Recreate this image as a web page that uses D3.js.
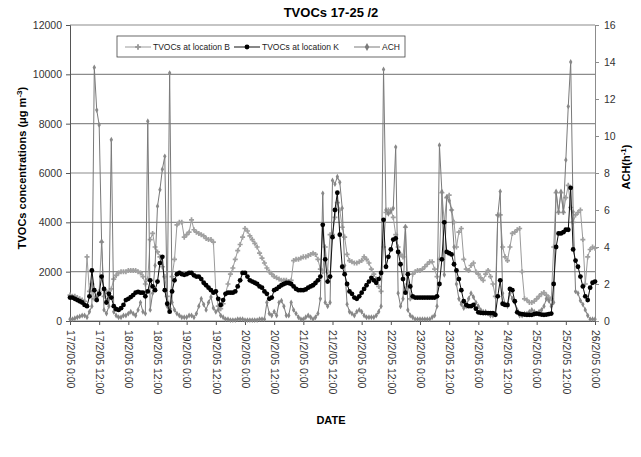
<!DOCTYPE html>
<html lang="en">
<head>
<meta charset="UTF-8">
<title>TVOCs 17-25 /2</title>
<script src="https://d3js.org/d3.v7.min.js"></script>
<style>
  body { margin: 0; background: #fff; }
  svg { font-family: "Liberation Sans", Arial, sans-serif; }
</style>
</head>
<body>
<script>
// x tick labels, one every 12 hours from 17/2/05 0:00
var dateLabels = ["17/2/05 0:00", "17/2/05 12:00", "18/2/05 0:00", "18/2/05 12:00",
    "19/2/05 0:00", "19/2/05 12:00", "20/2/05 0:00", "20/2/05 12:00",
    "21/2/05 0:00", "21/2/05 12:00", "22/2/05 0:00", "22/2/05 12:00",
    "23/2/05 0:00", "23/2/05 12:00", "24/2/05 0:00", "24/2/05 12:00",
    "25/2/05 0:00", "25/2/05 12:00", "26/2/05 0:00"];
var tvocTicks = [0, 2000, 4000, 6000, 8000, 10000, 12000];
var achTicks = [0, 2, 4, 6, 8, 10, 12, 14, 16];

// hourly readings, 17/2 0:00 -> 26/2 0:00 (217 values)
var locB = [
    1050,1000,1000,950,900,850,800,2600,1200,1500,900,1000,
    1200,3200,1000,1200,900,1300,1700,1850,1950,2000,2000,2000,
    2050,2050,2050,2050,2000,1950,1800,1500,1700,3300,3550,3000,
    2800,2600,2200,1800,1000,500,1800,2500,3900,4000,4000,3400,
    3500,3600,4100,3700,3600,3550,3500,3450,3350,3300,3300,3200,
    1200,600,500,700,1100,1500,1900,2150,2500,2850,3100,3400,
    3750,3650,3450,3300,3150,3000,2750,2550,2350,2150,2000,1900,
    1800,1750,1700,1650,1650,1650,1600,1650,2450,2500,2500,2550,
    2600,2600,2650,2700,2750,2700,2500,2100,2000,3000,2000,3500,
    3500,4200,4800,4500,3800,3400,2700,2450,2400,2350,2350,2400,
    2450,2600,2500,2350,2100,1900,1700,1400,1200,3000,4400,4500,
    4500,4200,3500,3000,2700,2600,3800,1500,900,1900,2000,2050,
    2050,2100,2200,2300,2400,2400,2100,1800,2500,5200,4000,5000,
    5100,4500,4000,3000,3600,3750,2500,2100,2050,2250,2350,2000,
    1900,1750,1650,1900,2050,1800,1500,1000,4300,4300,3000,2600,
    2450,3000,3550,3600,3700,3750,2000,900,850,750,750,800,
    900,1000,1100,1150,1050,950,900,3000,5200,4400,5200,4400,
    5000,5500,4600,4000,4300,4400,4500,3300,1500,2600,2900,3000,
    2950];
var locK = [
    950,950,900,850,800,750,650,600,1000,2050,1250,850,
    1100,1800,1300,750,1100,950,600,480,450,520,650,850,
    900,970,1050,1150,1180,1150,1150,1000,1200,1650,1400,1250,
    1600,2350,2600,1250,700,380,1200,1650,1900,1950,1900,1870,
    1900,1950,1950,1850,1800,1800,1700,1550,1450,1350,1250,1150,
    1200,900,650,850,1100,1150,1150,1150,1200,1400,1650,1950,
    1950,1800,1650,1600,1550,1500,1400,1350,1200,1100,900,950,
    1250,1300,1380,1450,1500,1540,1540,1500,1400,1300,1250,1250,
    1250,1280,1350,1400,1450,1540,1650,1800,3900,2500,1600,1800,
    3400,4500,5200,3500,2200,1900,1500,1200,1100,950,900,1000,
    1150,1300,1450,1600,1750,1650,1550,1700,1950,4100,2200,2600,
    2900,3300,3350,2800,2300,1700,1150,1900,1400,1000,950,950,
    950,950,950,950,950,950,950,1000,1500,2500,4000,2800,
    2750,2700,2300,2050,1700,1250,800,650,600,600,650,500,
    350,330,320,320,320,320,320,250,1000,1650,700,650,
    650,1300,1250,800,350,300,280,260,250,250,250,280,
    300,280,260,250,260,280,300,1500,3000,3550,3550,3600,
    3700,3700,5400,2900,2450,2200,1800,1400,1000,850,1350,1550,
    1600];
var achValues = [
    0.1,0.1,0.15,0.2,0.25,0.3,0.3,0.2,0.5,0.8,13.7,11.4,
    10.6,4.3,0.6,0.4,0.8,9.8,0.5,0.3,0.2,0.2,0.3,0.3,
    0.4,0.5,0.4,0.3,0.6,1.0,0.5,0.4,10.8,0.6,1.5,3.0,
    6.2,7.1,8.2,8.9,0.8,13.4,1.0,0.6,0.4,0.3,0.2,0.2,
    0.2,0.3,0.3,0.2,0.4,0.8,1.2,0.9,0.6,1.0,1.3,0.7,
    0.5,0.6,0.3,0.2,0.1,0.1,0.05,0.05,0.05,0.1,0.1,0.1,
    0.05,0.05,0.05,0.05,0.05,0.05,0.1,0.1,0.1,1.0,0.4,0.3,
    0.5,0.3,1.0,1.1,0.8,0.3,0.3,1.0,0.6,0.4,0.2,0.1,
    0.1,0.2,0.3,0.2,0.1,0.2,0.4,1.2,6.9,1.0,0.8,1.0,
    7.6,7.4,7.8,7.5,6.1,3.0,0.9,0.5,0.4,0.3,0.5,0.6,
    0.5,0.3,0.2,0.2,0.2,0.2,0.3,0.5,0.8,13.6,6.0,5.8,
    5.9,6.1,9.4,1.5,0.8,1.2,5.1,0.6,0.3,0.2,0.1,0.1,
    0.1,0.1,0.1,0.1,0.1,0.2,0.3,0.8,9.5,7.0,2.5,6.7,
    6.5,6.0,4.0,2.0,1.2,0.9,0.7,0.8,1.2,1.5,1.3,1.0,
    0.8,0.6,0.5,0.5,0.4,0.3,0.3,0.4,5.7,7.0,1.5,0.9,
    0.8,1.5,1.2,1.0,0.6,0.3,0.3,0.4,0.4,0.5,0.6,0.5,
    0.4,0.5,0.6,0.8,1.2,1.1,0.8,1.0,7.0,5.9,7.0,5.9,
    8.7,11.6,14.0,5.9,1.6,1.5,1.1,0.9,0.6,0.3,0.1,0.1,
    0.1];

var w = 641, h = 457;
var plotLeft = 70, plotRight = 595, plotTop = 25, plotBottom = 321;

var svg = d3.select("body").append("svg")
    .attr("width", w)
    .attr("height", h);

var x = d3.scaleLinear().domain([0, 216]).range([plotLeft, plotRight]);
var yL = d3.scaleLinear().domain([0, 12000]).range([plotBottom, plotTop]);
var yR = d3.scaleLinear().domain([0, 16]).range([plotBottom, plotTop]);

// gridlines
svg.append("g").selectAll("line")
    .data(tvocTicks)
    .enter().append("line")
    .attr("x1", plotLeft).attr("x2", plotRight)
    .attr("y1", function(d) { return yL(d); })
    .attr("y2", function(d) { return yL(d); })
    .attr("stroke", "#8c8c8c")
    .attr("stroke-width", 1.2);

// left axis
var gL = svg.append("g")
    .attr("transform", "translate(" + plotLeft + ",0)")
    .call(d3.axisLeft(yL).tickValues(tvocTicks).tickSize(4).tickPadding(4)
        .tickFormat(d3.format("d")));
gL.select(".domain").attr("stroke", "#555");
gL.selectAll("line").attr("stroke", "#555");
gL.selectAll("text").attr("font-size", "10.5px").attr("fill", "#333");

// right axis
var gR = svg.append("g")
    .attr("transform", "translate(" + plotRight + ",0)")
    .call(d3.axisRight(yR).tickValues(achTicks).tickSize(4).tickPadding(5));
gR.select(".domain").attr("stroke", "#8c8c8c");
gR.selectAll("line").attr("stroke", "#8c8c8c");
gR.selectAll("text").attr("font-size", "10.5px").attr("fill", "#333");

// bottom axis
var hourTicks = dateLabels.map(function(d, i) { return i * 12; });
var gX = svg.append("g")
    .attr("transform", "translate(0," + plotBottom + ")")
    .call(d3.axisBottom(x).tickValues(hourTicks).tickSize(4)
        .tickFormat(function(d, i) { return dateLabels[i]; }));
gX.select(".domain").attr("stroke", "#555");
gX.selectAll("line").attr("stroke", "#555");
gX.selectAll("text")
    .attr("font-size", "10.5px")
    .attr("fill", "#333")
    .attr("transform", "rotate(90)")
    .attr("x", 9)
    .attr("y", 0)
    .attr("dy", "0.35em")
    .style("text-anchor", "start");

// series
var lineB = d3.line().x(function(d, i) { return x(i); }).y(function(d) { return yL(d); });
var lineA = d3.line().x(function(d, i) { return x(i); }).y(function(d) { return yR(d); });

svg.append("path").datum(locB)
    .attr("d", lineB).attr("fill", "none")
    .attr("stroke", "#9a9a9a").attr("stroke-width", 1);
svg.append("g").selectAll("path")
    .data(locB).enter().append("path")
    .attr("transform", function(d, i) { return "translate(" + x(i) + "," + yL(d) + ")"; })
    .attr("d", d3.symbol().type(d3.symbolCross).size(14))
    .attr("fill", "#a0a0a0");

svg.append("path").datum(achValues)
    .attr("d", lineA).attr("fill", "none")
    .attr("stroke", "#7a7a7a").attr("stroke-width", 1);
svg.append("g").selectAll("path")
    .data(achValues).enter().append("path")
    .attr("transform", function(d, i) { return "translate(" + x(i) + "," + yR(d) + ")"; })
    .attr("d", d3.symbol().type(d3.symbolDiamond).size(10))
    .attr("fill", "#888");

svg.append("path").datum(locK)
    .attr("d", lineB).attr("fill", "none")
    .attr("stroke", "#111").attr("stroke-width", 1);
svg.append("g").selectAll("circle")
    .data(locK).enter().append("circle")
    .attr("cx", function(d, i) { return x(i); })
    .attr("cy", function(d) { return yL(d); })
    .attr("r", 2.4)
    .attr("fill", "#000");

// legend
var legend = svg.append("g");
legend.append("rect")
    .attr("x", 117).attr("y", 36).attr("width", 288).attr("height", 21)
    .attr("fill", "#fff").attr("stroke", "#444").attr("stroke-width", 0.8);
var items = [
    {name: "TVOCs at location B", x: 125, color: "#9a9a9a", mark: "cross"},
    {name: "TVOCs at location K", x: 234, color: "#111", mark: "dot"},
    {name: "ACH", x: 354, color: "#7a7a7a", mark: "diamond"}
];
items.forEach(function(it) {
    legend.append("line")
        .attr("x1", it.x).attr("x2", it.x + 26)
        .attr("y1", 47).attr("y2", 47)
        .attr("stroke", it.color).attr("stroke-width", 1);
    if (it.mark == "dot") {
        legend.append("circle").attr("cx", it.x + 13).attr("cy", 47).attr("r", 2.4).attr("fill", "#000");
    } else {
        legend.append("path")
            .attr("transform", "translate(" + (it.x + 13) + ",47)")
            .attr("d", d3.symbol().type(it.mark == "cross" ? d3.symbolCross : d3.symbolDiamond).size(18))
            .attr("fill", it.color);
    }
    legend.append("text")
        .attr("x", it.x + 28).attr("y", 50)
        .attr("font-size", "8.5px").attr("fill", "#222")
        .text(it.name);
});

// titles
svg.append("text")
    .attr("x", 331).attr("y", 17)
    .attr("text-anchor", "middle")
    .attr("font-size", "13px").attr("font-weight", "bold")
    .text("TVOCs  17-25 /2");

svg.append("text")
    .attr("x", 331).attr("y", 424)
    .attr("text-anchor", "middle")
    .attr("font-size", "11px").attr("font-weight", "bold")
    .text("DATE");

var yTitle = svg.append("text")
    .attr("transform", "translate(26,168) rotate(-90)")
    .attr("text-anchor", "middle")
    .attr("font-size", "11px").attr("font-weight", "bold");
yTitle.append("tspan").text("TVOCs concentrations (\u03bcg m");
yTitle.append("tspan").attr("dy", -4).attr("font-size", "8px").text("-3");
yTitle.append("tspan").attr("dy", 4).text(")");

var rTitle = svg.append("text")
    .attr("transform", "translate(630,167) rotate(-90)")
    .attr("text-anchor", "middle")
    .attr("font-size", "11px").attr("font-weight", "bold");
rTitle.append("tspan").text("ACH(h");
rTitle.append("tspan").attr("dy", -4).attr("font-size", "8px").text("-1");
rTitle.append("tspan").attr("dy", 4).text(")");
</script>
</body>
</html>
